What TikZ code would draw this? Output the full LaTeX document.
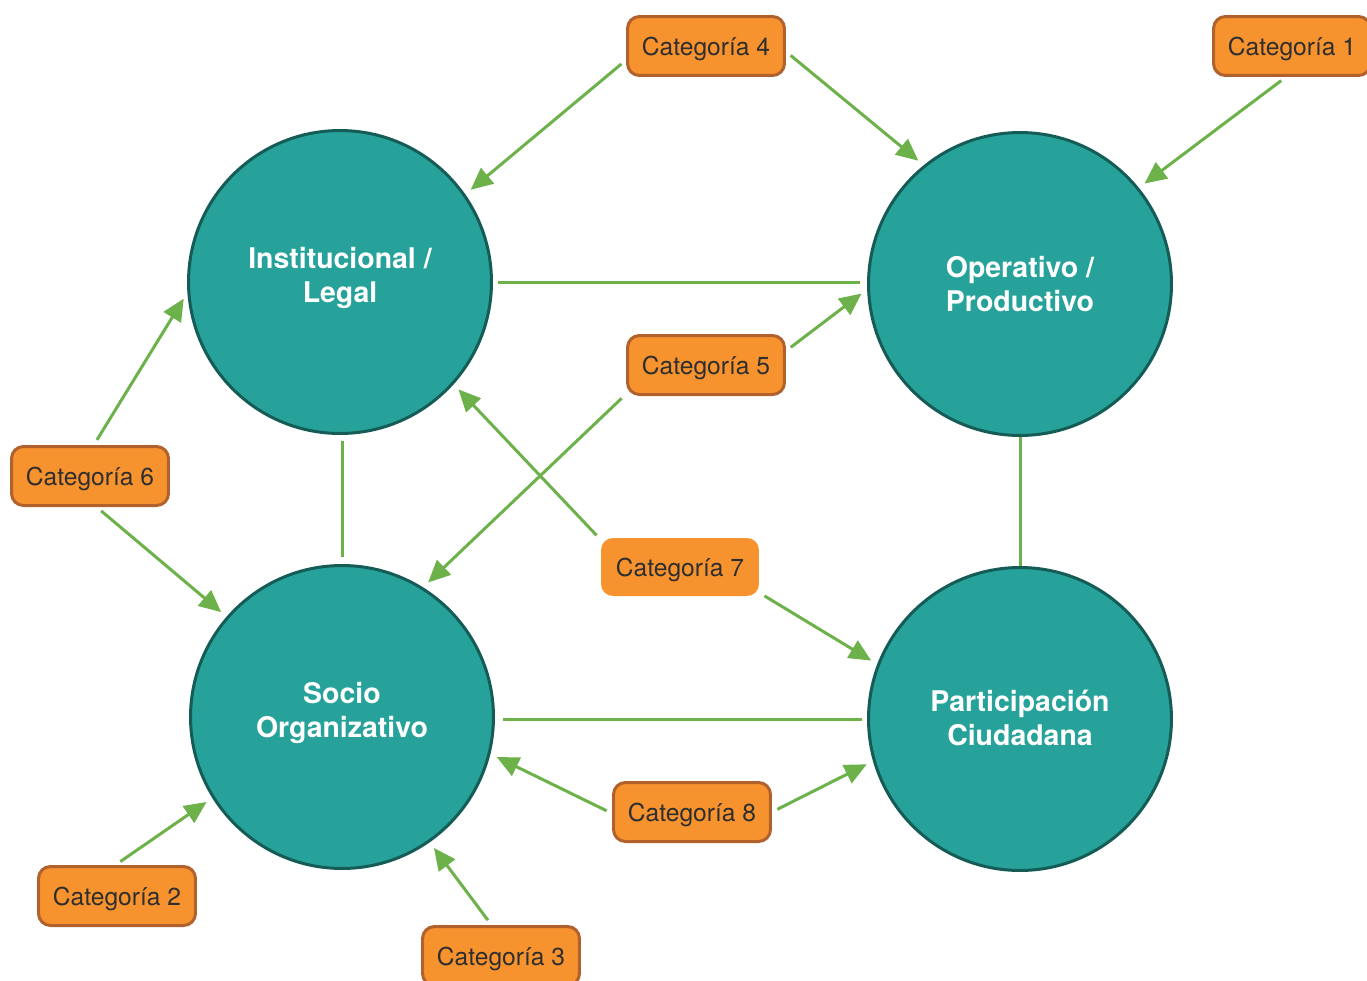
\documentclass[tikz,border=0pt]{standalone}
\usepackage{fontspec}
\setmainfont{TeX Gyre Heros}
\usetikzlibrary{arrows.meta}
\definecolor{teal1}{HTML}{26A29A}
\definecolor{tealdark}{HTML}{145C55}
\definecolor{orange1}{HTML}{F7932F}
\definecolor{orangedark}{HTML}{B1612B}
\definecolor{green1}{HTML}{6CB14A}
\definecolor{txt}{HTML}{2E2E2E}
\tikzset{
  hub/.style={circle, fill=teal1, draw=tealdark, line width=0.06cm, minimum size=6.06cm, inner sep=0pt},
  hubtext/.style={text=white, font=\fontsize{16.2}{19.3}\selectfont\bfseries, align=center, inner sep=0pt},
  catbox/.style={rectangle, rounded corners=0.24cm, fill=orange1, draw=orangedark, line width=0.06cm,
    minimum width=3.14cm, minimum height=1.18cm, text=txt, font=\fontsize{14}{16}\selectfont, inner sep=0pt, text depth=0pt},
  catplain/.style={rectangle, rounded corners=0.24cm, fill=orange1,
    minimum width=3.16cm, minimum height=1.16cm, text=txt, font=\fontsize{14}{16}\selectfont, inner sep=0pt, text depth=0pt},
  arr/.style={draw=green1, line width=0.06cm, -{Triangle[length=0.44cm, width=0.4cm]}, shorten <=0.12cm, shorten >=0.14cm},
  link/.style={draw=green1, line width=0.06cm},
}
\begin{document}
\begin{tikzpicture}[x=0.02cm, y=-0.02cm]
\useasboundingbox (0,0) rectangle (1367,981);
% hubs
\node[hub] (il) at (340,282) {};
\node[hub] (op) at (1020,284) {};
\node[hub] (so) at (342,717) {};
\node[hub] (pc) at (1020,719) {};
\node[hubtext] (ilt) at (340,278) {Institucional /\\Legal};
\node[hubtext] (opt) at (1020,284) {Operativo /\\Productivo};
\node[hubtext] (sot) at (342,713) {Socio\\Organizativo};
\node[hubtext] (pct) at (1020,718) {Participación\\Ciudadana};
% categories
\node[catbox] (c4) at (706,46) {Categoría 4};
\node[catbox] (c1) at (1292,46) {Categoría 1};
\node[catbox] (c5) at (706,365) {Categoría 5};
\node[catbox] (c6) at (90,476) {Categoría 6};
\node[catplain] (c7) at (680,567) {Categoría 7};
\node[catbox] (c8) at (692,812) {Categoría 8};
\node[catbox] (c2) at (117,896) {Categoría 2};
\node[catbox] (c3) at (501,956) {Categoría 3};
% links
\draw[link, shorten <=0.1cm, shorten >=0.14cm] (il.east) -- (il.east -| op.west);
\draw[link, shorten <=0.12cm, shorten >=0.14cm] (il.south -| so.north) -- (so.north);
\draw[link] (op.south) -- (pc.north);
\draw[link, shorten <=0.16cm, shorten >=0.1cm] (so.east |- pc.west) -- (pc.west);
% arrows
\draw[arr] (c4.190) -- (il.35);
\draw[arr] (c4.356) -- (op.129);
\draw[arr] (c1.259) -- (op.39);
\draw[arr] (c5.10) -- (op.182);
\draw[arr] (c5.200) -- (so.58);
\draw[arr] (c6.83) -- (il.184);
\draw[arr] (c6.282) -- (so.139);
\draw[arr] (c7.161) -- (il.318);
\draw[arr] (c7.342) -- (pc.159);
\draw[arr] (c8.181) -- (so.346);
\draw[arr] (c8.0) -- (pc.196);
\draw[arr] (c2.93) -- (so.212);
\draw[arr] (c3.107) -- (so.305);
\end{tikzpicture}
\end{document}
